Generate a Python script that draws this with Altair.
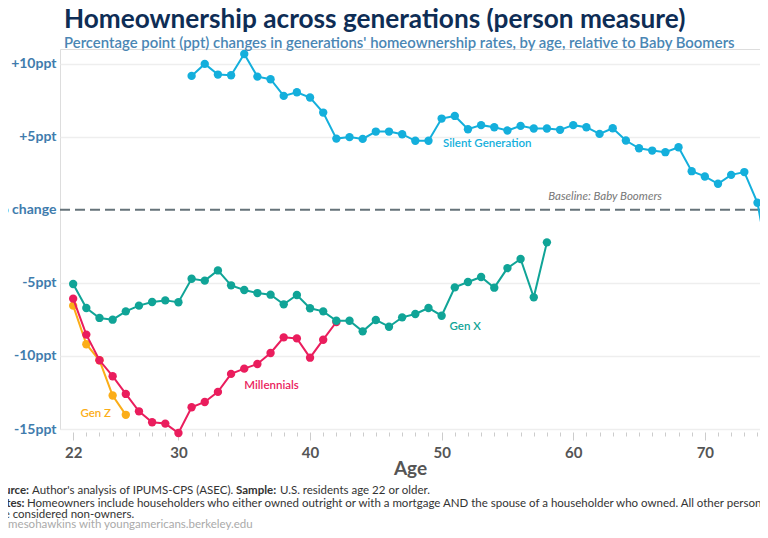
import altair as alt
import pandas as pd

# ---- data ----
silent_ages = list(range(31, 76))
silent_vals = [9.16, 9.98, 9.25, 9.2, 10.66, 9.11, 8.93, 7.79, 8.04, 7.68, 6.65, 4.87, 4.97,
               4.85, 5.35, 5.35, 5.17, 4.72, 4.72, 6.24, 6.42, 5.51, 5.79, 5.65, 5.42, 5.74,
               5.56, 5.56, 5.47, 5.79, 5.65, 5.19, 5.58, 4.74, 4.21, 4.05, 3.94, 4.28, 2.64,
               2.28, 1.78, 2.39, 2.58, 0.48, -4.5]

genx_ages = list(range(22, 59))
genx_vals = [-5.08, -6.72, -7.4, -7.52, -6.95, -6.56, -6.31, -6.2, -6.33, -4.72, -4.85, -4.15,
             -5.17, -5.49, -5.7, -5.81, -6.47, -5.83, -6.74, -6.95, -7.59, -7.59, -8.32, -7.54,
             -8.0, -7.36, -7.13, -6.72, -7.25, -5.31, -4.94, -4.6, -5.33, -3.99, -3.37, -5.99,
             -2.23]

mill_ages = list(range(22, 43))
mill_vals = [-6.08, -8.54, -10.3, -11.39, -12.6, -13.79, -14.54, -14.63, -15.27, -13.51, -13.15,
             -12.46, -11.23, -10.87, -10.55, -9.8, -8.73, -8.8, -10.12, -8.89, -7.68]

genz_ages = list(range(22, 27))
genz_vals = [-6.56, -9.2, -10.3, -12.71, -14.03]

series_names = ["Gen Z", "Millennials", "Gen X", "Silent Generation"]
series_colors = ["#fbad18", "#ea1d5d", "#10a497", "#14afdc"]

y_ticks = [-15, -10, -5, 0, 5, 10]
x_label_ticks = [22, 30, 40, 50, 60, 70]

# label anchor points (age, value) for series names
label_ages = [22.55, 39.15, 50.6, 50.1]
label_vals = [-13.94, -12.03, -8.0, 4.49]
label_aligns = ["left", "right", "left", "left"]

baseline_label = "Baseline: Baby Boomers"
baseline_age = 58.1
baseline_val = 0.5

title_text = "Homeownership across generations (person measure)"
subtitle_text = "Percentage point (ppt) changes in generations' homeownership rates, by age, relative to Baby Boomers"

FONT = "Lato"
W, H = 700, 380
PX_PER_YEAR = 13.16

series_data = {
    "Gen Z": (genz_ages, genz_vals),
    "Millennials": (mill_ages, mill_vals),
    "Gen X": (genx_ages, genx_vals),
    "Silent Generation": (silent_ages, silent_vals),
}

major_list = ",".join(str(v) for v in x_label_ticks)
major_test = f"indexof([{major_list}], datum.value) >= 0"

x_max = 21 + W / PX_PER_YEAR

x_enc = alt.X(
    "age:Q",
    scale=alt.Scale(domain=[21, x_max], nice=False, zero=False),
    axis=alt.Axis(
        values=list(range(22, 75)),
        labelExpr=f"{major_test} ? datum.label : ''",
        tickSize={"condition": {"test": major_test, "value": 8}, "value": 4},
        tickColor="#cccccc",
        tickWidth=1,
        domain=False,
        grid=False,
        offset=3,
        labelPadding=5,
        labelFontSize=15,
        labelFontWeight="bold",
        labelColor="#555555",
        labelFont=FONT,
        labelOverlap=False,
        labelFlush=False,
        title="Age",
        titleFont=FONT,
        titleFontSize=19,
        titleFontWeight="bold",
        titleColor="#555555",
        titlePadding=-1,
    ),
)

y_enc = alt.Y(
    "value:Q",
    scale=alt.Scale(domain=[-15, 11], nice=False, zero=False),
    axis=alt.Axis(
        values=y_ticks,
        labelExpr="datum.value == 0 ? 'No change' : (datum.value > 0 ? '+' + datum.value + 'ppt' : datum.value + 'ppt')",
        gridColor={"condition": {"test": "datum.value == 0", "value": "transparent"}, "value": "#eeeeee"},
        gridWidth=1.5,
        domain=False,
        ticks=False,
        labelPadding=4,
        labelFontSize=14,
        labelFontWeight="bold",
        labelColor="#3f7cad",
        labelFont=FONT,
        title=None,
    ),
)

layers = []

# baseline dashed rule at 0
base_df = pd.DataFrame({"value": [0]})
layers.append(
    alt.Chart(base_df).mark_rule(color="#66737a", strokeWidth=2, strokeDash=[10, 5]).encode(y=y_enc)
)

# series lines + points
for name, color in zip(series_names, series_colors):
    ages, vals = series_data[name]
    df = pd.DataFrame({"age": ages, "value": vals})
    clip = name == "Silent Generation"
    layers.append(
        alt.Chart(df).mark_line(color=color, strokeWidth=2, clip=clip).encode(x=x_enc, y=y_enc)
    )
    layers.append(
        alt.Chart(df).mark_circle(color=color, size=70, opacity=1, clip=clip).encode(x=x_enc, y=y_enc)
    )

# series labels
for name, color, a, v, al in zip(series_names, series_colors, label_ages, label_vals, label_aligns):
    ldf = pd.DataFrame({"age": [a], "value": [v], "label": [name]})
    layers.append(
        alt.Chart(ldf).mark_text(color=color, font=FONT, fontSize=11.5, fontWeight=600,
                                 align=al, baseline="middle").encode(x=x_enc, y=y_enc, text="label:N")
    )

# baseline label
bdf = pd.DataFrame({"age": [baseline_age], "value": [baseline_val], "label": [baseline_label]})
layers.append(
    alt.Chart(bdf).mark_text(color="#777777", font=FONT, fontSize=11.5, fontStyle="italic",
                             align="left", baseline="bottom").encode(x=x_enc, y=y_enc, text="label:N")
)

# footer notes
one = pd.DataFrame({"k": [0]})
FS = 11.5
footer = [
    ("Source:", -69, H + 62, "bold", "#333333"),
    ("Author's analysis of IPUMS-CPS (ASEC).", -28, H + 62, "normal", "#333333"),
    ("Sample:", 176, H + 62, "bold", "#333333"),
    ("U.S. residents age 22 or older.", 220, H + 62, "normal", "#333333"),
    ("Notes:", -69, H + 75, "bold", "#333333"),
    ("Homeowners include householders who either owned outright or with a mortgage AND the spouse of a householder who owned. All other persons",
     -33, H + 75, "normal", "#333333"),
    ("are considered non-owners.", -66, H + 86, "normal", "#333333"),
    ("@jamesohawkins with youngamericans.berkeley.edu", -70, H + 96, "normal", "#aaaaaa"),
]
for txt, fx, fy, fw, fc in footer:
    layers.append(
        alt.Chart(one).mark_text(font=FONT, fontSize=FS, fontWeight=fw, color=fc,
                                 align="left", baseline="middle").encode(
            x=alt.value(fx), y=alt.value(fy), text=alt.value(txt))
    )

chart = alt.layer(*layers).properties(
    width=W,
    height=H,
    autosize=alt.AutoSizeParams(type="none"),
    padding={"left": 52, "top": 41, "right": 0, "bottom": 101},
    title=alt.TitleParams(
        text=title_text,
        subtitle=subtitle_text,
        anchor="start",
        frame="group",
        dx=4,
        offset=-2,
        font=FONT,
        fontSize=26.2,
        fontWeight="bold",
        color="#0e2d55",
        subtitleFont=FONT,
        subtitleFontSize=14.9,
        subtitleFontWeight=600,
        subtitleColor="#4a86b4",
        subtitlePadding=3,
    ),
).configure_view(stroke=None).configure(font=FONT, background="white")

chart.save("out.html", embed_options={"renderer": "svg", "actions": False})
